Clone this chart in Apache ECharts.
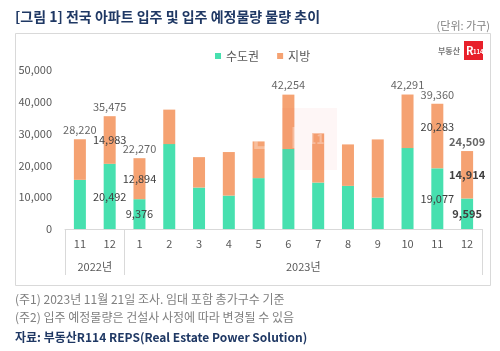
<!DOCTYPE html>
<html><head><meta charset="utf-8">
<script src="https://cdn.jsdelivr.net/npm/echarts@6/dist/echarts.min.js"></script>
<style>html,body{margin:0;padding:0;background:#fff}#c{width:500px;height:351px}</style>
</head><body><div id="c"></div>
<script>
const FONT = "'Noto Sans CJK KR', 'Noto Sans', sans-serif";
const months = ['11','12','1','2','3','4','5','6','7','8','9','10','11','12'];
const yearGroups = [{name:'2022년', from:0, to:1},{name:'2023년', from:2, to:13}];
const seriesNames = ['수도권','지방'];
const capital = [15460, 20492, 9376, 26700, 13030, 10500, 16000, 25140, 14600, 13560, 9870, 25450, 19077, 9595];
const local   = [12760, 14983, 12894, 10840, 9570, 13700, 11540, 17114, 15460, 13040, 18300, 16841, 20283, 14914];
const totals  = [28220, 35475, 22270, '-', '-', '-', '-', 42254, '-', '-', '-', 42291, 39360, 24509];
const innerLabelIdx = [1, 2, 12, 13];
const boldIdx = [13];
const yTicks = [0, 10000, 20000, 30000, 40000, 50000];

const fmt = v => Number(v).toLocaleString('en-US');
const labelColor = '#404040';

function mkData(arr, isLocal){
  return arr.map((v,i)=>{
    const show = innerLabelIdx.includes(i);
    const o = {value:v, label:{show:show, position:'inside', color:labelColor, fontSize:11, fontFamily:FONT,
      fontWeight: boldIdx.includes(i)?'bold':'normal', formatter: p=>fmt(p.value)}};
    if (isLocal && i===12) o.label.offset=[0,-9];
    return o;
  });
}

const chart = echarts.init(document.getElementById('c'), null, {renderer:'canvas', devicePixelRatio:1});
const option = {
  animation:false,
  backgroundColor:'#fff',
  textStyle:{fontFamily:FONT},
  legend:{data:seriesNames, left:210, top:45, icon:'rect', itemWidth:6, itemHeight:6, itemGap:18,
    textStyle:{fontSize:12, color:'#595959', fontFamily:FONT}},
  grid:{left:65, right:18, top:70, bottom:122, containLabel:false},
  xAxis:{type:'category', data:months,
    axisLine:{show:true, lineStyle:{color:'#d9d9d9', width:1}},
    axisTick:{show:true, length:46, interval:(i)=> i===yearGroups[0].from || i===yearGroups[1].from, lineStyle:{color:'#d9d9d9'}},
    axisLabel:{fontSize:11, color:'#595959', margin:9, fontFamily:FONT}},
  yAxis:{type:'value', min:yTicks[0], max:yTicks[yTicks.length-1], interval:yTicks[1]-yTicks[0],
    axisLine:{show:false}, axisTick:{show:false}, splitLine:{show:false},
    axisLabel:{fontSize:11, color:'#595959', margin:13, fontFamily:FONT, formatter:v=>fmt(v)}},
  series:[
    {name:seriesNames[0], type:'bar', stack:'a', barWidth:12, itemStyle:{color:'#47E0AF'}, data:mkData(capital,false)},
    {name:seriesNames[1], type:'bar', stack:'a', barWidth:12, itemStyle:{color:'#F5A272'}, data:mkData(local,true)},
    {name:'합계', type:'scatter', symbolSize:0, itemStyle:{color:'rgba(0,0,0,0)'}, z:5,
      data: totals.map((v,i)=>({value:v, label:{fontWeight: boldIdx.includes(i)?'bold':'normal'}})),
      label:{show:true, position:'top', distance:4, color:labelColor, fontSize:11, fontFamily:FONT, formatter:p=>fmt(p.value)}}
  ]
};
chart.setOption(option);

const yearTexts = yearGroups.map(g=>{
  const x1 = chart.convertToPixel({xAxisIndex:0}, g.from);
  const x2 = chart.convertToPixel({xAxisIndex:0}, g.to);
  return {type:'text', x:(x1+x2)/2, y:267, style:{text:g.name, font:'11px '+FONT, fill:'#595959', textAlign:'center', textVerticalAlign:'middle', align:'center', verticalAlign:'middle'}};
});

const T = (text,x,y,font,fill,align)=>({type:'text', x:x, y:y, z:10, style:{text:text, font:font, fill:fill, textAlign:align||'left', align:align||'left', textVerticalAlign:'middle', verticalAlign:'middle'}});

chart.setOption({graphic:[
  {type:'rect', shape:{x:15.5, y:33.5, width:475, height:252}, style:{fill:'none', stroke:'#d9d9d9', lineWidth:1}, z:-1},
  T('[그림 1] 전국 아파트 입주 및 입주 예정물량 물량 추이', 15, 17, 'bold 14px '+FONT, '#1F3864'),
  T('(단위: 가구)', 490, 26, '11px '+FONT, '#808080', 'right'),
  T('(주1) 2023년 11월 21일 조사. 임대 포함 총가구수 기준', 15, 299, '12px '+FONT, '#7F7F7F'),
  T('(주2) 입주 예정물량은 건설사 사정에 따라 변경될 수 있음', 15, 317, '12px '+FONT, '#7F7F7F'),
  T('자료: 부동산R114 REPS(Real Estate Power Solution)', 15, 337, 'bold 12px '+FONT, '#1F3864'),
  T('부동산', 460, 51, 'bold 8px '+FONT, '#777777', 'right'),
  {type:'rect', shape:{x:464, y:41, width:19, height:19}, style:{fill:'#E8202A'}, z:10},
  T('R', 466, 51, 'bold 11px '+FONT, '#ffffff'),
  T('114', 473, 52, 'bold 6px '+FONT, '#ffffff'),
  {type:'rect', shape:{x:282, y:108, width:55, height:62}, style:{fill:'rgba(230,40,40,0.045)'}, z:20},
  T('부동산', 202, 137, 'bold 26px '+FONT, 'rgba(255,255,255,0.3)'),
  T('R', 290, 137, 'bold 28px '+FONT, 'rgba(255,255,255,0.35)'),
  T('114', 308, 139, 'bold 14px '+FONT, 'rgba(255,255,255,0.35)'),
  ...yearTexts
]});
</script></body></html>
